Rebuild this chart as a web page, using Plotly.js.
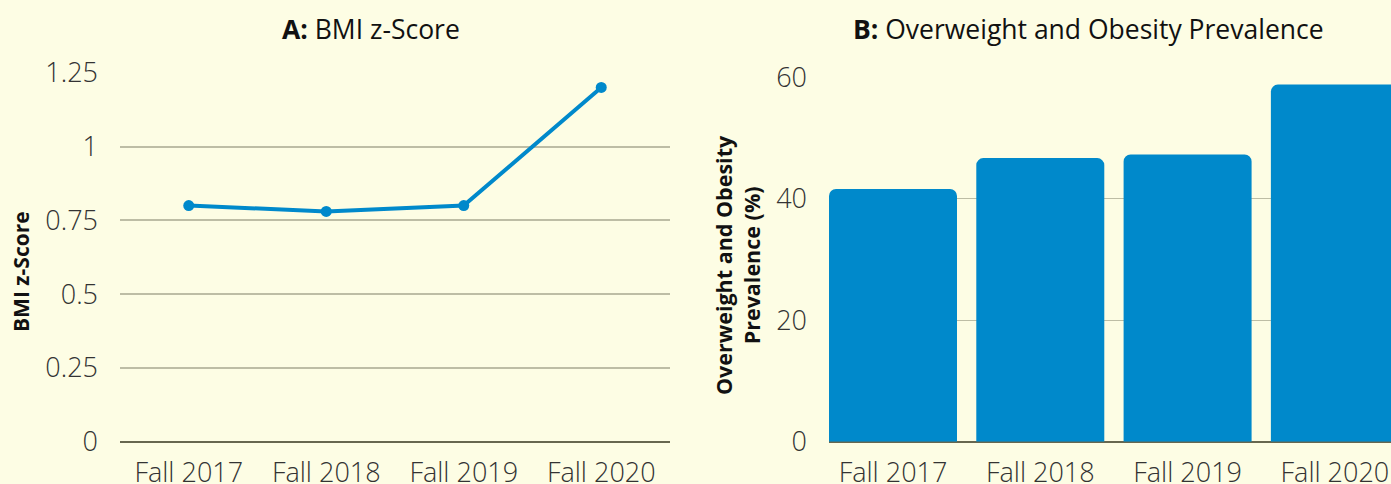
<!DOCTYPE html>
<html>
<head>
<meta charset="utf-8">
<script src="https://cdn.plot.ly/plotly-3.0.1.min.js"></script>
<style>
  html, body { margin: 0; padding: 0; background: #fdfde4; overflow: hidden; }
  #chart { width: 1391px; height: 484px; }
</style>
</head>
<body>
<div id="chart"></div>
<script>
// ---- Data ----
const categories = ['Fall 2017', 'Fall 2018', 'Fall 2019', 'Fall 2020'];
const bmiZScore = [0.80, 0.78, 0.80, 1.20];
const prevalence = [41.6, 46.7, 47.3, 58.8];
const bmiTickVals = [0, 0.25, 0.5, 0.75, 1, 1.25];
const bmiTickText = ['0', '0.25', '0.5', '0.75', '1', '1.25'];
const prevTickVals = [0, 20, 40, 60];
const prevTickText = ['0', '20', '40', '60'];
const titleA = '<b>A:</b> BMI z-Score';
const titleB = '<b>B:</b> Overweight and Obesity Prevalence';
const yTitleA = '<b>BMI z-Score</b>';
const yTitleB = '<b>Overweight and Obesity<br>Prevalence (%)</b>';

// ---- Layout helpers ----
const W = 1391, H = 484;
const px = v => v / W;
const py = v => 1 - v / H;

const bg = '#fdfde4';
const blue = '#0089cb';
const gridCol = '#bdbda5';
const tickFont = { family: 'Open Sans', size: 27, weight: 300, color: '#333333' };

const traces = [
  {
    type: 'scatter', mode: 'lines+markers',
    x: categories, y: bmiZScore,
    xaxis: 'x', yaxis: 'y',
    line: { color: blue, width: 4 },
    marker: { color: blue, size: 11 },
    hoverinfo: 'x+y'
  },
  {
    type: 'bar',
    x: categories, y: prevalence,
    xaxis: 'x2', yaxis: 'y2',
    marker: { color: blue, cornerradius: 7 },
    hoverinfo: 'x+y'
  }
];

const layout = {
  width: W, height: H,
  margin: { l: 0, r: 0, t: 0, b: 0, pad: 0 },
  paper_bgcolor: bg, plot_bgcolor: bg,
  showlegend: false,
  bargap: 0.131,
  font: { family: 'Open Sans', color: '#222' },
  xaxis: {
    domain: [px(120), px(670)],
    type: 'category', range: [-0.5, 3.5],
    showgrid: false, zeroline: false, showline: false,
    ticks: '', tickfont: tickFont, ticklabelstandoff: 12,
    fixedrange: true
  },
  yaxis: {
    domain: [py(441.7), py(72.7)],
    range: [0, 1.25],
    tickvals: bmiTickVals, ticktext: bmiTickText,
    showgrid: true, gridcolor: gridCol, gridwidth: 1.6,
    zeroline: true, zerolinecolor: '#67674f', zerolinewidth: 2.4,
    showline: false, ticks: '', tickfont: tickFont, ticklabelstandoff: 21,
    fixedrange: true
  },
  xaxis2: {
    domain: [px(829), 1],
    type: 'category', range: [-0.4345, 3.381],
    showgrid: false, zeroline: false, showline: false,
    ticks: '', tickfont: tickFont, ticklabelstandoff: 12,
    fixedrange: true
  },
  yaxis2: {
    domain: [py(441.7), py(77.3)],
    range: [0, 60],
    tickvals: prevTickVals, ticktext: prevTickText,
    showgrid: true, gridcolor: gridCol, gridwidth: 1,
    zeroline: true, zerolinecolor: '#67674f', zerolinewidth: 1.5,
    showline: false, ticks: '', tickfont: tickFont, ticklabelstandoff: 21,
    anchor: 'x2', fixedrange: true
  },
  annotations: [
    { text: titleA, xref: 'paper', yref: 'paper', x: px(371), y: py(29),
      xanchor: 'center', yanchor: 'middle', showarrow: false,
      font: { family: 'Open Sans', size: 26.5, color: '#111' } },
    { text: titleB, xref: 'paper', yref: 'paper', x: px(1088), y: py(29),
      xanchor: 'center', yanchor: 'middle', showarrow: false,
      font: { family: 'Open Sans', size: 26.5, color: '#111' } },
    { text: yTitleA, xref: 'paper', yref: 'paper', x: px(21), y: py(272),
      xanchor: 'center', yanchor: 'middle', showarrow: false, textangle: -90,
      font: { family: 'Open Sans', size: 21, color: '#111' } },
    { text: yTitleB, xref: 'paper', yref: 'paper', x: px(737), y: py(265),
      xanchor: 'center', yanchor: 'middle', showarrow: false, textangle: -90,
      font: { family: 'Open Sans', size: 21.5, color: '#111' } }
  ]
};

Plotly.newPlot('chart', traces, layout, { displayModeBar: false });
</script>
</body>
</html>
